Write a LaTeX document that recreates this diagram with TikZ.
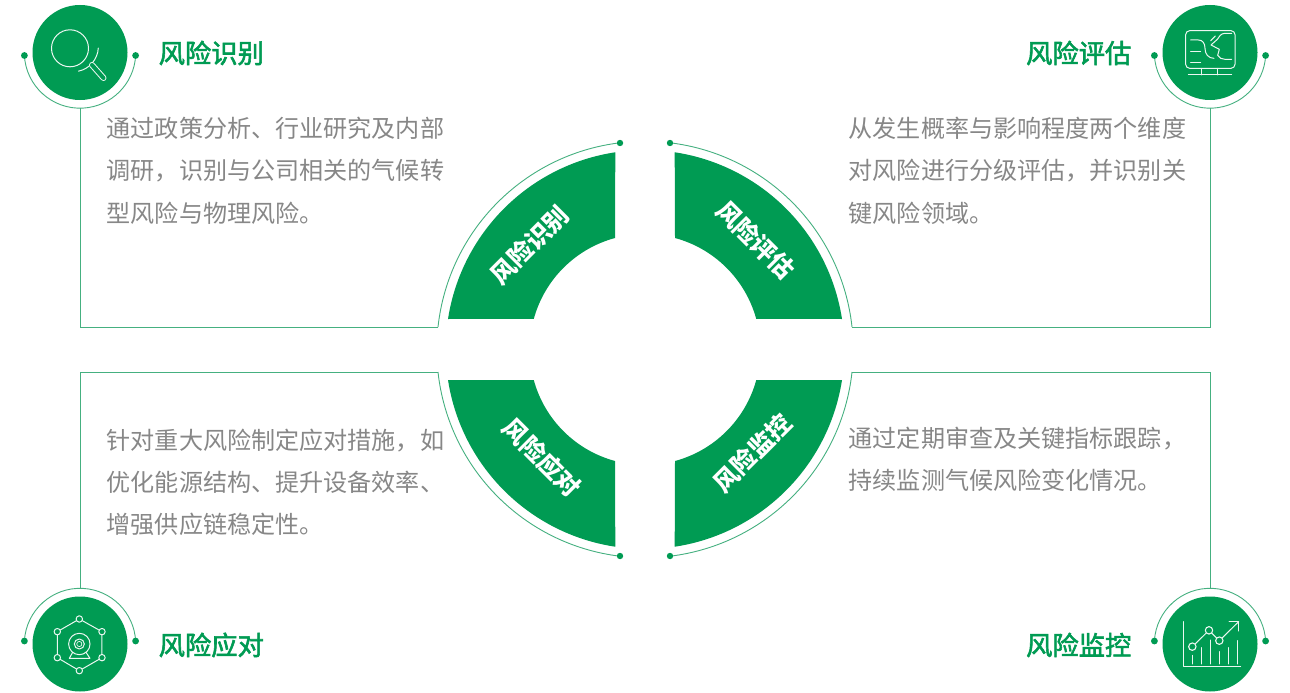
\documentclass[tikz,border=0pt]{standalone}
\usepackage{fontspec}
\setmainfont{Noto Sans CJK SC}
\newfontfamily\cjkbold[FakeBold=2.2]{Noto Sans CJK SC}
\newfontfamily\cjkstrong{Noto Sans CJK SC}
\newfontfamily\cjklight{Noto Sans CJK SC}
\definecolor{brand}{HTML}{009B53}
\definecolor{thin}{HTML}{45B080}
\definecolor{bodytext}{HTML}{878787}
\tikzset{
  sector/.style={fill=brand,draw=none},
  thinline/.style={draw=thin,line width=0.9pt},
  dotmark/.style={fill=brand,draw=none},
  badge/.style={circle,fill=brand,draw=none,minimum size=95pt,inner sep=0pt},
  icon/.style={draw=white!92!brand,line width=1pt,line cap=round,line join=round},
  heading/.style={inner sep=0pt,text=brand,font=\cjkbold\fontsize{26.3pt}{30pt}\selectfont},
  sectorlabel/.style={inner sep=0pt,text=white,font=\cjkstrong\bfseries\fontsize{24.5pt}{28pt}\selectfont},
  bodypara/.style={inner sep=0pt,anchor=north west,align=left,text=bodytext,font=\cjklight\fontsize{24.1pt}{42.3pt}\selectfont}
}
\begin{document}
\begin{tikzpicture}[x=1pt,y=1pt]
\useasboundingbox (0,0) rectangle (1290,-693);
\fill[white] (0,0) rectangle (1290,-693);
% sectors
\foreach \sx/\sy in {1/1,-1/1,1/-1,-1/-1}{
  \begin{scope}[shift={(645,-349.5)},xscale=\sx,yscale=\sy]
    \fill[sector] (-197,30.5) arc[start angle=171.2,end angle=98.6,radius=199.5] -- (-30,111.5) arc[start angle=105.1,end angle=164.6,radius=115.4] -- cycle;
    \draw[thinline] (-207,22.5) arc[start angle=173.8,end angle=96.9,radius=208.2];
  \end{scope}
}
% anchors
\coordinate (tlA) at (438,-327); \coordinate (tlB) at (80,-327); \coordinate (tlC) at (80,-108.3);
\coordinate (trA) at (852,-327); \coordinate (trB) at (1210,-327); \coordinate (trC) at (1210,-108.3);
\coordinate (blA) at (438,-372); \coordinate (blB) at (80,-372); \coordinate (blC) at (80,-588.3);
\coordinate (brA) at (852,-372); \coordinate (brB) at (1210,-372); \coordinate (brC) at (1210,-588.3);
\draw[thinline] (tlA) -- (tlB) -- (tlC);
\draw[thinline] (trA) -- (trB) -- (trC);
\draw[thinline] (blA) -- (blB) -- (blC);
\draw[thinline] (brA) -- (brB) -- (brC);
% dots on central arcs
\foreach \p in {(620,-143),(670,-143),(620,-556),(670,-556)} \fill[dotmark] \p circle (3.2);
% badges
\node[badge] (b1) at (80,-52.5) {};
\node[badge] (b2) at (1210,-52.5) {};
\node[badge] (b3) at (80,-644) {};
\node[badge] (b4) at (1210,-644) {};
\foreach \c/\s in {b1/1,b2/1,b3/-1,b4/-1}{
  \begin{scope}[shift={(\c.center)},yscale=\s]
    \draw[thinline] (-55.6,-3) arc[start angle=183.1,end angle=356.9,radius=55.7];
    \fill[dotmark] (-55.6,-3) circle (3.4);
    \fill[dotmark] (55.6,-3) circle (3.4);
  \end{scope}
}
% icon 1: magnifier
\draw[icon] (70,-48.3) circle (18.5);
\draw[icon] (98.3,-48) arc[start angle=-3,end angle=-78,radius=25];
\draw[white!92!brand,line width=6pt,line cap=round] (92,-65) -- (103.5,-78);
\draw[brand,line width=4pt,line cap=round] (92,-65) -- (103.5,-78);
% icon 2: monitor
\begin{scope}[shift={(1130,0)},x=0.3333pt,y=-0.3333pt]
  \draw[icon,rounded corners=4pt] (167,92) rectangle (315,205);
  \draw[icon] (215,205) -- (215,225) (263,205) -- (263,225);
  \draw[icon] (175,225) -- (305,225);
  \draw[icon] (182,120) -- (205,120) .. controls (218,120) and (225,130) .. (225,145) .. controls (225,162) and (235,175) .. (252,175);
  \draw[icon] (182,154) -- (212,154);
  \draw[icon] (182,188) -- (212,188);
  \draw[icon] (305,100) -- (285,100) .. controls (272,100) and (268,110) .. (262,118) -- (243,135) -- (268,148) -- (263,166) .. controls (268,174) and (275,178) .. (285,178) -- (305,178);
  \draw[icon] (242,122) -- (256,108);
\end{scope}
% icon 3: hexagon webcam
\begin{scope}[shift={(0,-570)},x=0.3333pt,y=-0.3333pt]
  \draw[icon] (238,147) -- (306,185) -- (306,263) -- (238,302) -- (172,263) -- (172,185) -- cycle;
  \foreach \p in {(238,147),(306,185),(306,263),(238,302),(172,263),(172,185)}
    \filldraw[icon,fill=brand] \p circle (3.2pt);
  \draw[icon] (238,222) circle (10.7pt);
  \draw[icon] (238,222) circle (5pt);
  \draw[icon,line width=0.7pt] (238,222) circle (2.6pt);
  \draw[icon] (218,247) -- (208,265) -- (270,265) -- (258,247);
\end{scope}
% icon 4: chart
\begin{scope}[shift={(1130,-570)},x=0.3333pt,y=-0.3333pt]
  \draw[icon] (159,155) -- (159,289) -- (332,289);
  \draw[icon] (187,256) -- (187,282);
  \draw[icon] (214,233) -- (214,282);
  \draw[icon] (241,210) -- (241,282);
  \draw[icon] (269,245) -- (269,282);
  \draw[icon] (296,233) -- (296,282);
  \draw[icon] (323,212) -- (323,282);
  \draw[icon] (187,230) -- (237,181) -- (268,212) -- (326,155);
  \draw[icon] (297,155) -- (326,155) -- (326,183);
  \filldraw[icon,fill=brand,line width=1.1pt] (187,230) circle (3.7pt);
  \filldraw[icon,fill=brand,line width=1.1pt] (237,181) circle (3.7pt);
  \filldraw[icon,fill=brand,line width=1.1pt] (268,212) circle (3.7pt);
\end{scope}
% headings
\node[heading,anchor=west] (h1) at (158.5,-53) {风险识别};
\node[heading,anchor=east] (h2) at (1131.5,-53) {风险评估};
\node[heading,anchor=west] (h3) at (158.5,-645) {风险应对};
\node[heading,anchor=east] (h4) at (1131.5,-645) {风险监控};
% sector labels
\node[sectorlabel,rotate=45] (s1) at (529.5,-245) {风险识别};
\node[sectorlabel,rotate=-45] (s2) at (755.5,-240) {风险评估};
\node[sectorlabel,rotate=-45] (s3) at (542,-458) {风险应对};
\node[sectorlabel,rotate=45] (s4) at (752.5,-453) {风险监控};
% body
\node[bodypara] (t1) at (106.5,-117) {通过政策分析、行业研究及内部\\调研，识别与公司相关的气候转\\型风险与物理风险。};
\node[bodypara] (t2) at (848.5,-117) {从发生概率与影响程度两个维度\\对风险进行分级评估，并识别关\\键风险领域。};
\node[bodypara] (t3) at (106.5,-428.5) {针对重大风险制定应对措施，如\\优化能源结构、提升设备效率、\\增强供应链稳定性。};
\node[bodypara] (t4) at (848.5,-426.5) {通过定期审查及关键指标跟踪，\\持续监测气候风险变化情况。};
\end{tikzpicture}
\end{document}
